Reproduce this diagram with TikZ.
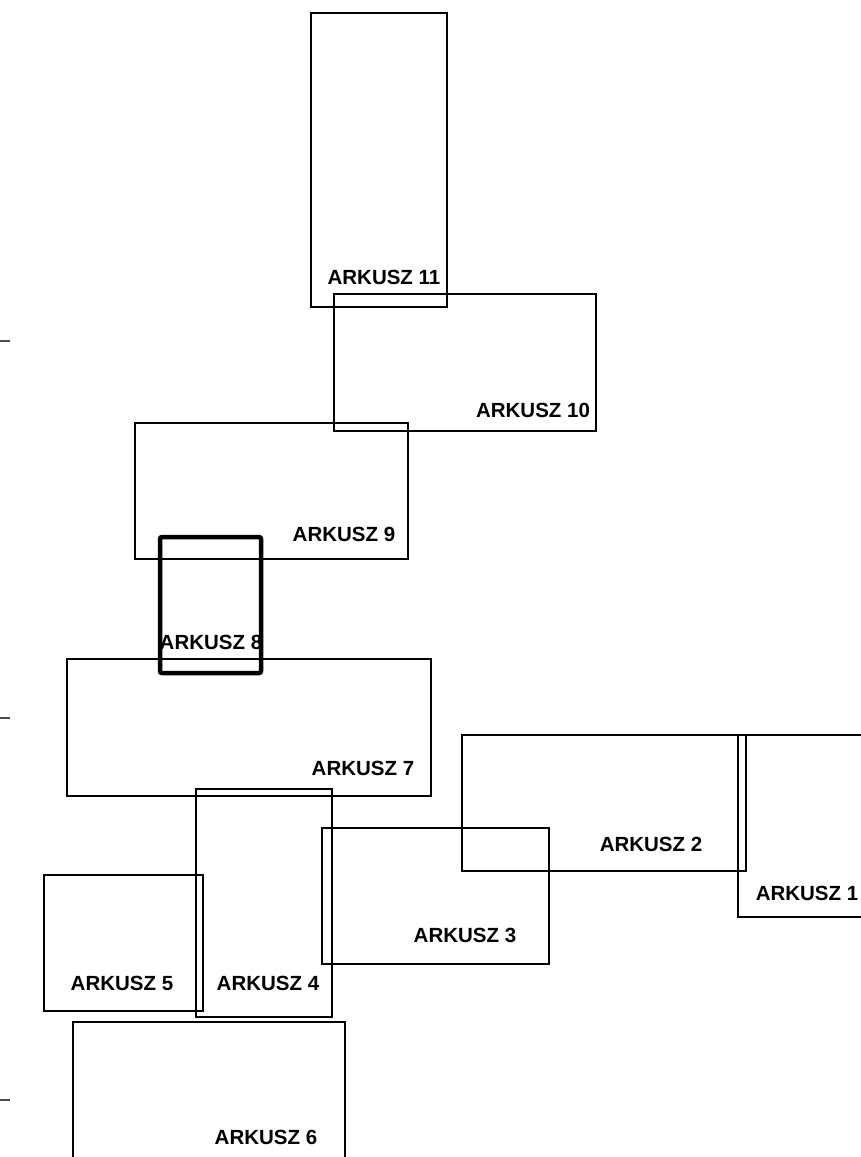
\documentclass[tikz,border=0pt]{standalone}
\usepackage{fontspec}
\setmainfont{Liberation Sans}
\usetikzlibrary{positioning}
\tikzstyle{sheet} = [draw,line width=1.3pt]
\tikzstyle{sheetbold} = [draw,line width=4.5pt,rounded corners=2pt]
\tikzstyle{sheetname} = [font=\fontsize{20.5}{21}\selectfont\bfseries,inner sep=0pt]
\tikzstyle{tick} = [draw=black!70,line width=1.2pt]

\begin{document}
\begin{tikzpicture}[x=1pt,y=-1pt]
		\useasboundingbox (0,0) rectangle (861,1157);
		\clip (0,0) rectangle (861,1157);
		% ticks on the left edge
		\draw[tick] (0,341)--(10,341);
		\draw[tick] (0,718)--(10,718);
		\draw[tick] (0,1100)--(10,1100);
		
		\draw[sheet] (311,13) rectangle (447,307);
		\draw[sheet] (334,294) rectangle (596,431);
		\draw[sheet] (135,423) rectangle (408,559);
		\draw[sheet] (67,659) rectangle (431,796);
		\draw[sheet] (462,735) rectangle (746,871);
		\draw[sheet] (738,735) rectangle (870,917);
		\draw[sheet] (322,828) rectangle (549,964);
		\draw[sheet] (196,789) rectangle (332,1017);
		\draw[sheet] (44,875) rectangle (203,1011);
		\draw[sheet] (73,1022) rectangle (345,1170);
		\draw[sheetbold] (160,537) rectangle (261,673);
		
		\node[sheetname] (a11) at (384,277) {ARKUSZ 11};
		\node[sheetname] (a10) at (533,410) {ARKUSZ 10};
		\node[sheetname] (a9) at (344,534) {ARKUSZ 9};
		\node[sheetname] (a8) at (211,642) {ARKUSZ 8};
		\node[sheetname] (a7) at (363,768) {ARKUSZ 7};
		\node[sheetname] (a2) at (651,844) {ARKUSZ 2};
		\node[sheetname] (a1) at (807,893) {ARKUSZ 1};
		\node[sheetname] (a3) at (465,935) {ARKUSZ 3};
		\node[sheetname] (a4) at (268,983) {ARKUSZ 4};
		\node[sheetname] (a5) at (122,983) {ARKUSZ 5};
		\node[sheetname] (a6) at (266,1137) {ARKUSZ 6};
\end{tikzpicture}
\end{document}
